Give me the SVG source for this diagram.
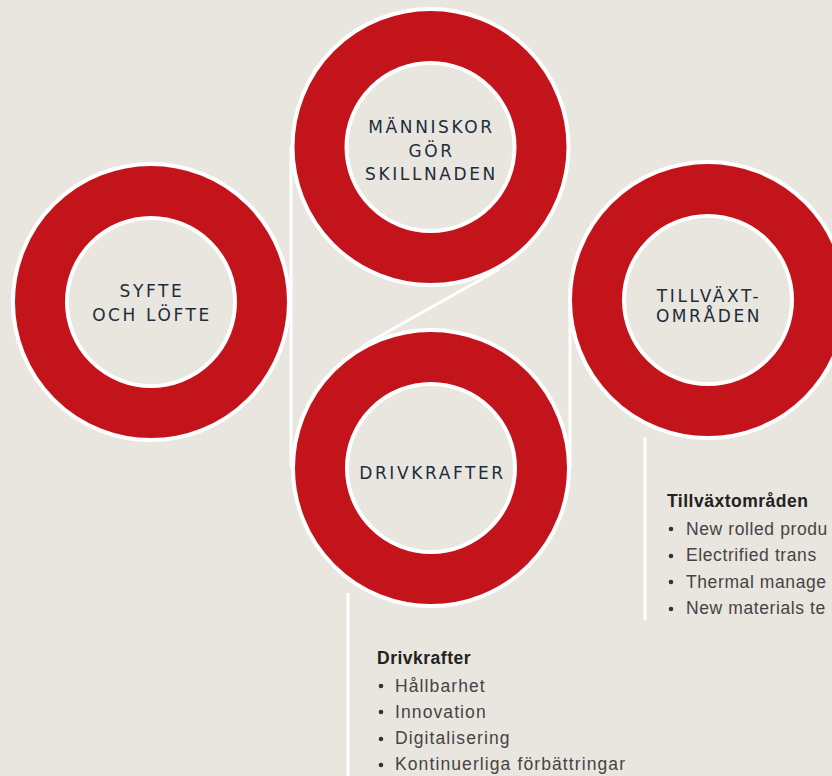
<svg xmlns="http://www.w3.org/2000/svg" width="832" height="776" viewBox="0 0 832 776">
<style>
.bg{fill:#e9e5df}
.ring{fill:#c3141c;stroke:#ffffff;stroke-width:4}
.hole{fill:#e9e5df;stroke:#ffffff;stroke-width:4}
.lbl{font-family:"DejaVu Sans",sans-serif;font-size:17px;letter-spacing:2.6px;fill:#1d2d3b;text-anchor:middle}
.con{stroke:#ffffff;stroke-width:3;fill:none}
.hd{font-family:"Liberation Sans",Arial,sans-serif;font-size:17.5px;font-weight:bold;fill:#222222;letter-spacing:0.5px}
.it{font-family:"Liberation Sans",Arial,sans-serif;font-size:17.5px;fill:#444444;letter-spacing:1.1px}
.it2{font-family:"Liberation Sans",Arial,sans-serif;font-size:17.5px;fill:#444444;letter-spacing:0.6px}
.bul{fill:#333333}
</style>
<rect class="bg" x="0" y="0" width="832" height="776"/>
<g id="connectors">
<line class="con" x1="291" y1="147" x2="291" y2="468"/>
<line class="con" x1="499.5" y1="269" x2="362.5" y2="346"/>
<line class="con" x1="570" y1="300" x2="570" y2="468"/>
<line class="con" x1="645" y1="437" x2="645" y2="620"/>
<line class="con" x1="348" y1="593" x2="348" y2="776"/>
</g>
<g id="node-manniskor">
<circle class="ring" cx="430.5" cy="147" r="138"/>
<circle class="hole" cx="430.5" cy="147" r="84"/>
<text class="lbl" x="431.5" y="133">MÄNNISKOR</text>
<text class="lbl" x="431.5" y="157">GÖR</text>
<text class="lbl" x="431.5" y="180">SKILLNADEN</text>
</g>
<g id="node-syfte">
<circle class="ring" cx="151" cy="302" r="138"/>
<circle class="hole" cx="151" cy="302" r="84"/>
<text class="lbl" x="152" y="297">SYFTE</text>
<text class="lbl" x="152" y="321">OCH LÖFTE</text>
</g>
<g id="node-tillvaxt">
<circle class="ring" cx="708" cy="300" r="138"/>
<circle class="hole" cx="708" cy="300" r="84"/>
<text class="lbl" x="709" y="302">TILLVÄXT-</text>
<text class="lbl" x="709" y="322">OMRÅDEN</text>
</g>
<g id="node-drivkrafter">
<circle class="ring" cx="431" cy="468" r="138"/>
<circle class="hole" cx="431" cy="468" r="84"/>
<text class="lbl" x="432.5" y="479">DRIVKRAFTER</text>
</g>
<g id="list-tillvaxt">
<text class="hd" x="667" y="507">Tillväxtområden</text>
<circle class="bul" cx="671" cy="529" r="2.3"/>
<text class="it2" x="686" y="534.5">New rolled produ</text>
<circle class="bul" cx="671" cy="556" r="2.3"/>
<text class="it2" x="686" y="561">Electrified trans</text>
<circle class="bul" cx="671" cy="582" r="2.3"/>
<text class="it2" x="686" y="587.5">Thermal manage</text>
<circle class="bul" cx="671" cy="609" r="2.3"/>
<text class="it2" x="686" y="614">New materials te</text>
</g>
<g id="list-drivkrafter">
<text class="hd" x="377" y="664">Drivkrafter</text>
<circle class="bul" cx="381" cy="686" r="2.3"/>
<text class="it" x="395" y="691.5">Hållbarhet</text>
<circle class="bul" cx="381" cy="712" r="2.3"/>
<text class="it" x="395" y="717.5">Innovation</text>
<circle class="bul" cx="381" cy="739" r="2.3"/>
<text class="it" x="395" y="744">Digitalisering</text>
<circle class="bul" cx="381" cy="765" r="2.3"/>
<text class="it" x="395" y="770">Kontinuerliga förbättringar</text>
</g>
</svg>
